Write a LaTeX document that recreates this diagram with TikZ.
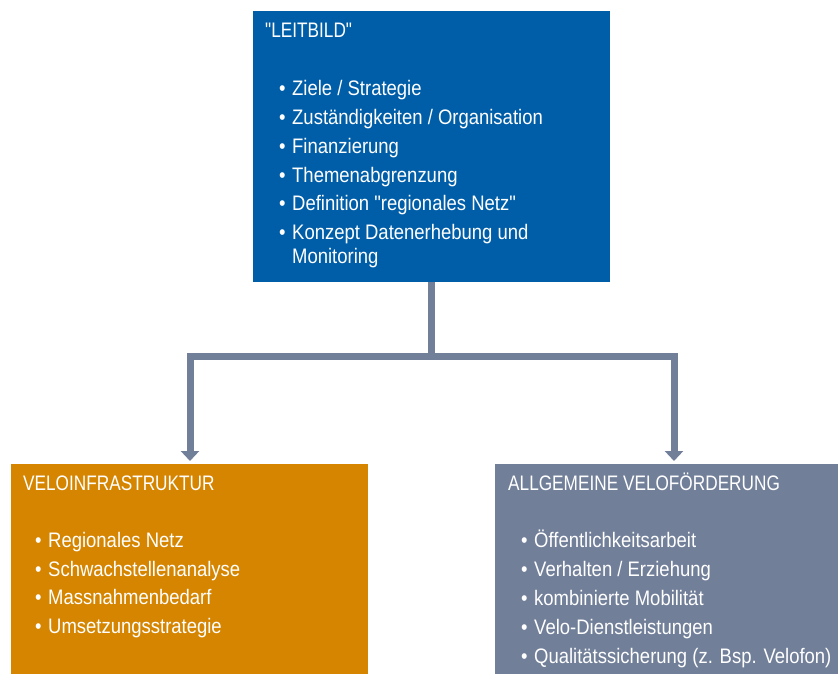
\documentclass[tikz,border=0pt]{standalone}
\usepackage{fontspec}
\setmainfont{Liberation Sans}[FakeStretch=0.88, Ligatures=TeXOff]
\newfontfamily\titlefont{Liberation Sans}[FakeStretch=0.82, Ligatures=TeXOff]
\usetikzlibrary{arrows.meta}

\definecolor{leitblue}{RGB}{0,94,168}
\definecolor{infraorange}{RGB}{214,133,0}
\definecolor{foerdgrey}{RGB}{113,127,153}

\newcommand{\bul}{\makebox[13pt][l]{\textbullet}}
\newcommand{\boxtext}[3]{\begin{minipage}[t][#2][t]{#1}\fontsize{21}{23.5}\selectfont #3\end{minipage}}

\begin{document}
\begin{tikzpicture}[x=1pt, y=-1pt,
  boxnode/.style={anchor=north west, inner sep=0pt, text=white},
  conn/.style={line width=7pt, draw=foerdgrey},
  conntip/.style={conn, -{Triangle[width=18pt, length=10pt]}}]
  \useasboundingbox (0,0) rectangle (838,674);

  % Leitbild
  \node[boxnode, fill=leitblue] (leitbild) at (253,11) {\boxtext{357pt}{271pt}{%
    \rule{0pt}{26pt}\hspace*{12pt}{\titlefont "LEITBILD"}\\[35pt]
    \hspace*{26pt}\bul Ziele / Strategie\\[5.3pt]
    \hspace*{26pt}\bul Zuständigkeiten / Organisation\\[5.3pt]
    \hspace*{26pt}\bul Finanzierung\\[5.3pt]
    \hspace*{26pt}\bul Themenabgrenzung\\[5.3pt]
    \hspace*{26pt}\bul Definition "regionales Netz"\\[5.3pt]
    \hspace*{26pt}\bul Konzept Datenerhebung und\\
    \hspace*{39pt}Monitoring}};

  % Veloinfrastruktur
  \node[boxnode, fill=infraorange] (infra) at (11,464) {\boxtext{357pt}{210pt}{%
    \rule{0pt}{26pt}\hspace*{12pt}{\titlefont VELOINFRASTRUKTUR}\\[34pt]
    \hspace*{24pt}\bul Regionales Netz\\[5pt]
    \hspace*{24pt}\bul Schwachstellenanalyse\\[5pt]
    \hspace*{24pt}\bul Massnahmenbedarf\\[5pt]
    \hspace*{24pt}\bul Umsetzungsstrategie}};

  % Allgemeine Veloförderung
  \node[boxnode, fill=foerdgrey] (foerd) at (495,464) {\boxtext{343pt}{210pt}{%
    \rule{0pt}{26pt}\hspace*{13pt}{\titlefont ALLGEMEINE VELOFÖRDERUNG}\\[34pt]
    \hspace*{26pt}\bul Öffentlichkeitsarbeit\\[5.5pt]
    \hspace*{26pt}\bul Verhalten / Erziehung\\[5.5pt]
    \hspace*{26pt}\bul kombinierte Mobilität\\[5.5pt]
    \hspace*{26pt}\bul Velo-Dienstleistungen\\[5.5pt]
    \hspace*{26pt}\bul Qualitätssicherung (z. Bsp. Velofon)}};

  % connectors
  \coordinate (fork) at (leitbild.south |- 0,356);
  \coordinate (infratip) at (190,461);
  \coordinate (foerdtip) at (674,461);
  \draw[conn] (leitbild.south) -- (fork);
  \draw[conntip] (fork) -| (infratip);
  \draw[conntip] (fork) -| (foerdtip);
\end{tikzpicture}
\end{document}
